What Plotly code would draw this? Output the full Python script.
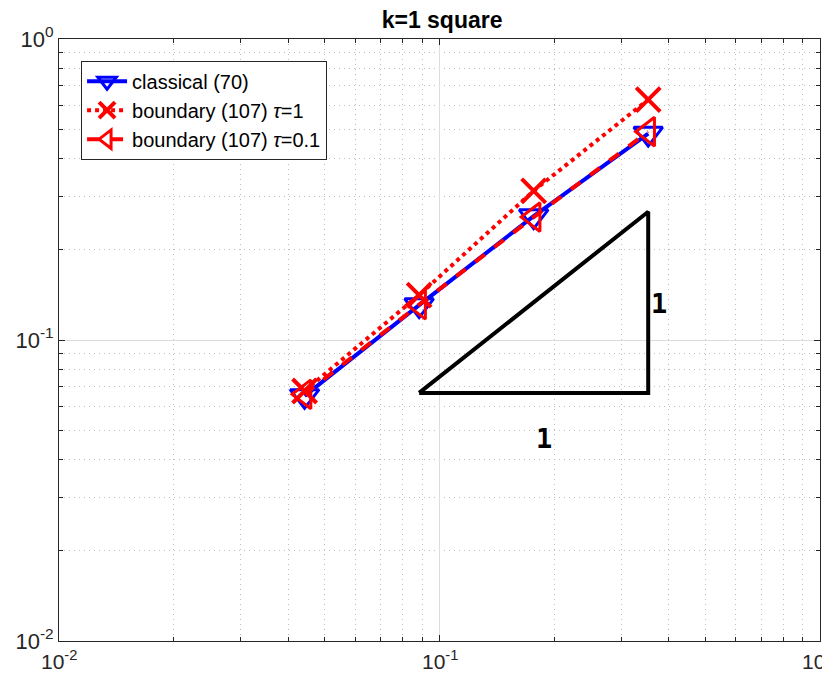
import math
import plotly.graph_objects as go

h = [0.0442, 0.0884, 0.1768, 0.3536]
err_classical = [0.0652, 0.1306, 0.258, 0.485]
err_tau1 = [0.0677, 0.141, 0.313, 0.629]
err_tau01 = [0.0660, 0.131, 0.256, 0.492]

tri_x = [0.0884, 0.3536, 0.3536, 0.0884]
tri_y = [0.0667, 0.0667, 0.2668, 0.0667]

label_run = (0.188, 0.0472)
label_rise = (0.3776, 0.1318)

names = ["classical (70)", "boundary (107) <i>τ</i>=1", "boundary (107) <i>τ</i>=0.1"]

major = [0.01, 0.1, 1]
major_text = ["10<sup>-2</sup>", "10<sup>-1</sup>", "10<sup>0</sup>"]
minor_vals = [m * d for d in [0.01, 0.1] for m in range(2, 10)]

fig = go.Figure()
fig.add_trace(go.Scatter(
    x=h, y=err_classical, name=names[0], mode="lines+markers",
    line=dict(color="#0000ff", width=4),
    marker=dict(symbol="triangle-down-open", size=25, color="#0000ff",
                line=dict(width=3, color="#0000ff"))))
fig.add_trace(go.Scatter(
    x=h, y=err_tau1, name=names[1], mode="lines+markers",
    line=dict(color="#ff0000", width=4, dash="dot"),
    marker=dict(symbol="x-thin-open", size=24, color="#ff0000",
                line=dict(width=4, color="#ff0000"))))
fig.add_trace(go.Scatter(
    x=h, y=err_tau01, name=names[2], mode="lines+markers",
    line=dict(color="#ff0000", width=4, dash="dash"),
    marker=dict(symbol="triangle-left-open", size=25, color="#ff0000",
                line=dict(width=3, color="#ff0000"))))
fig.add_trace(go.Scatter(
    x=tri_x, y=tri_y, mode="lines", showlegend=False,
    line=dict(color="black", width=4), hoverinfo="skip"))

for (lx, ly) in (label_run, label_rise):
    fig.add_annotation(x=math.log10(lx), y=math.log10(ly), text="<b>1</b>", showarrow=False,
                       font=dict(family="DejaVu Sans Mono", size=27, color="black"))

# x tick labels drawn as text at the axis' own tick positions (last one kept inside the page)
for i, (v, t) in enumerate(zip(major, major_text)):
    last = i == len(major) - 1
    fig.add_annotation(x=math.log10(v), xref="x", y=0, yref="paper", text=t, showarrow=False,
                       xanchor="right" if last else "center", xshift=16 if last else 0,
                       yanchor="top", yshift=-4,
                       font=dict(family="Liberation Sans", size=21, color="#262626"))

axis_common = dict(
    type="log", showline=True, mirror="ticks", linecolor="#262626", linewidth=1,
    ticks="inside", ticklen=6, tickcolor="#262626", automargin=False,
    tickvals=major, ticktext=major_text,
    showgrid=True, gridcolor="#dcdcdc", gridwidth=1, zeroline=False,
    minor=dict(tickvals=minor_vals, ticks="inside", ticklen=4, tickcolor="#262626",
               showgrid=True, gridcolor="#bdbdbd", griddash="1px,4px", gridwidth=1),
)
fig.update_xaxes(range=[-2, 0], showticklabels=False, **axis_common)
fig.update_yaxes(range=[-2, 0], ticklabelstandoff=0,
                 tickfont=dict(family="Liberation Sans", size=22, color="#262626"),
                 **axis_common)

fig.update_layout(
    width=830, height=674,
    margin=dict(l=51, r=18, t=31, b=41),
    paper_bgcolor="white", plot_bgcolor="white",
    title=dict(text="<b>k=1 square</b>", x=0.523, xanchor="center", y=0.982, yanchor="middle",
               font=dict(family="Liberation Sans", size=23, color="black")),
    legend=dict(x=0.029, y=0.964, xanchor="left", yanchor="top",
                bgcolor="white", bordercolor="#262626", borderwidth=1,
                font=dict(family="Liberation Sans", size=20, color="black"),
                itemwidth=40),
    showlegend=True,
)

fig.write_html("out.html")
